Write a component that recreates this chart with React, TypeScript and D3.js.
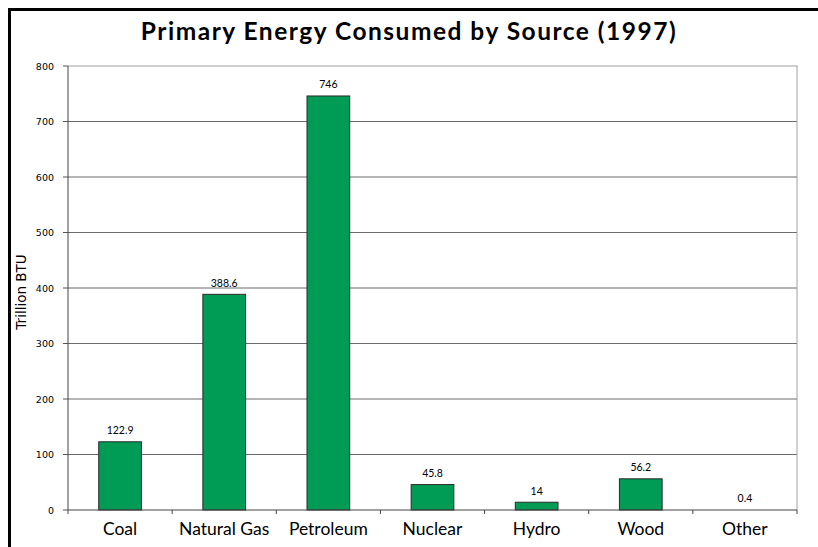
import React from "react";
import * as d3 from "d3";

const categories = ["Coal", "Natural Gas", "Petroleum", "Nuclear", "Hydro", "Wood", "Other"];
const values = [122.9, 388.6, 746, 45.8, 14, 56.2, 0.4];
const valueLabels = ["122.9", "388.6", "746", "45.8", "14", "56.2", "0.4"];
const yTicks = [0, 100, 200, 300, 400, 500, 600, 700, 800];
const title = "Primary Energy Consumed by Source (1997)";
const yTitle = "Trillion BTU";

export default function App() {
  const W = 818, H = 547;
  const left = 68, right = 797, top = 66, bottom = 510;
  const x = d3.scaleBand<string>().domain(categories).range([left, right]).paddingInner(0).paddingOuter(0);
  const y = d3.scaleLinear().domain([0, 800]).range([bottom, top]);
  const bw = x.bandwidth() * 0.41;
  const boundaries = d3.range(categories.length + 1).map((i) => left + i * x.step());

  return (
    <svg width={W} height={H} style={{ position: "absolute", left: 0, top: 0, display: "block" }}>
      <rect x={0} y={0} width={W} height={H} fill="#fff" />
      <rect x={9.5} y={9.5} width={W + 20} height={H + 20} fill="none" stroke="#000" strokeWidth={3} />
      <text x={409} y={39.5} textAnchor="middle" fontFamily="Lato" fontWeight="bold" fontSize={24.5} letterSpacing={1.5} fill="#000">
        {title}
      </text>
      {/* gridlines */}
      {yTicks.map((t) => (
        <g key={t}>
          {t > 0 && t < 800 && (
            <line x1={left} x2={right} y1={y(t)} y2={y(t)} stroke="#6a6a6a" strokeWidth={1} />
          )}
          <line x1={left - 5} x2={left} y1={y(t)} y2={y(t)} stroke="#555" strokeWidth={1} />
          <text x={54} y={y(t) + 3.5} textAnchor="end" fontFamily="DejaVu Sans" fontSize={9.5} fill="#000">
            {t}
          </text>
        </g>
      ))}
      {/* plot border top/right */}
      <line x1={left} x2={right + 0.5} y1={top} y2={top} stroke="#a0a0a0" strokeWidth={1} />
      <line x1={right} x2={right} y1={top} y2={bottom} stroke="#a0a0a0" strokeWidth={1} />
      {/* bars */}
      {categories.map((c, i) => {
        const cx = (x(c) as number) + x.bandwidth() / 2;
        const yv = y(values[i]);
        return (
          <g key={c}>
            {values[i] > 1 && (
              <rect x={cx - bw / 2} y={yv} width={bw} height={bottom - yv} fill="#009B55" stroke="#2a2a2a" strokeWidth={1} />
            )}
            <text x={cx} y={yv - 7.5} textAnchor="middle" fontFamily="Lato" fontSize={10.5} fill="#000">
              {valueLabels[i]}
            </text>
            <text x={cx} y={535} textAnchor="middle" fontFamily="Lato" fontSize={17.5} fill="#000">
              {c}
            </text>
          </g>
        );
      })}
      {/* axes */}
      <line x1={left} x2={left} y1={top} y2={bottom} stroke="#444" strokeWidth={1} />
      <line x1={left} x2={right} y1={bottom} y2={bottom} stroke="#444" strokeWidth={1} />
      {boundaries.map((b, i) => (
        <line key={i} x1={b} x2={b} y1={bottom} y2={bottom + 4} stroke="#444" strokeWidth={1} />
      ))}
      <text
        transform={`translate(26,292) rotate(-90)`}
        textAnchor="middle"
        fontFamily="DejaVu Sans"
        fontSize={13.5}
        fill="#000"
      >
        {yTitle}
      </text>
    </svg>
  );
}
